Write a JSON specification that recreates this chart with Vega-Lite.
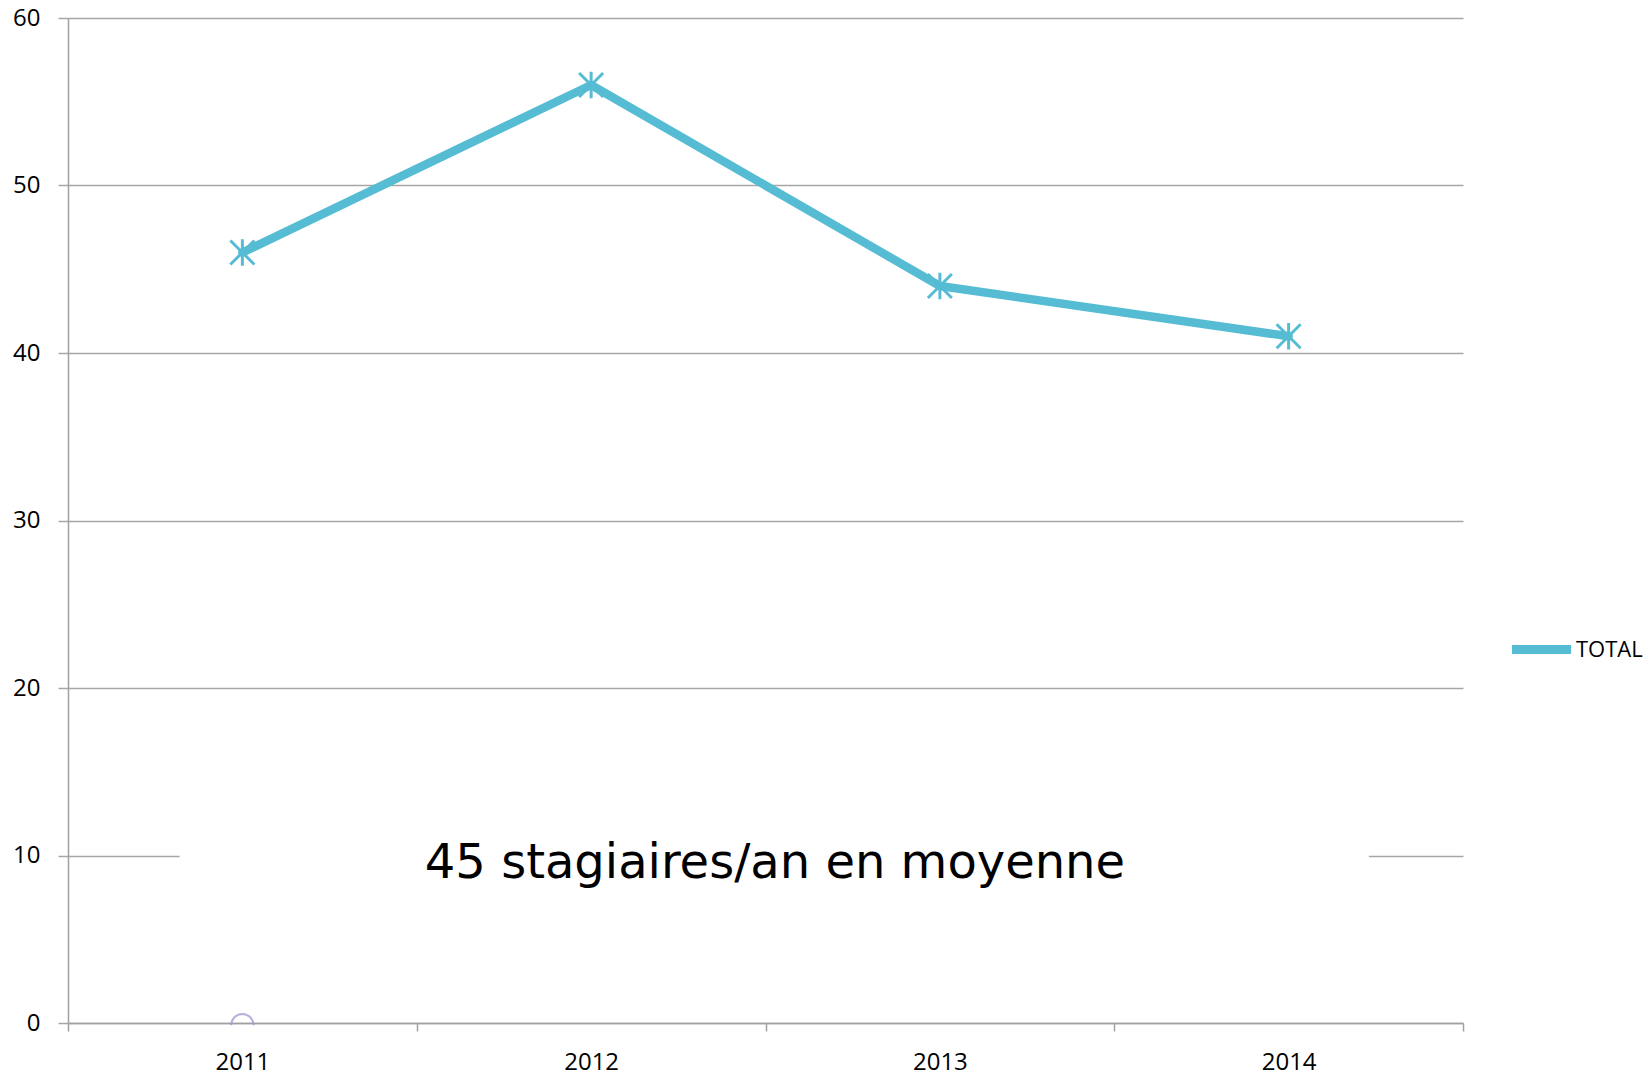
{
  "$schema": "https://vega.github.io/schema/vega-lite/v6.json",
  "width": 1395,
  "height": 1005,
  "autosize": {"type": "none"},
  "padding": {"left": 68, "top": 18, "right": 187, "bottom": 53},
  "background": "white",
  "config": {"view": {"stroke": null}, "font": "Open Sans"},
  "datasets": {
    "total": [
      {"year": "2011", "value": 46, "series": "TOTAL"},
      {"year": "2012", "value": 56, "series": "TOTAL"},
      {"year": "2013", "value": 44, "series": "TOTAL"},
      {"year": "2014", "value": 41, "series": "TOTAL"}
    ],
    "note": [
      {"start": "2011", "end": "2014", "mid": "2013", "y": 9.5, "lo": 7.8, "hi": 11.2, "label": "45 stagiaires/an en moyenne"}
    ],
    "zero": [{"year": "2011", "value": 0}]
  },
  "resolve": {"scale": {"color": "independent"}},
  "layer": [
    {
      "data": {"name": "total"},
      "mark": {"type": "line", "strokeWidth": 8.5, "strokeCap": "round", "strokeJoin": "round"},
      "encoding": {
        "x": {
          "field": "year", "type": "ordinal",
          "scale": {"type": "band", "domain": ["2011", "2012", "2013", "2014"], "paddingInner": 0, "paddingOuter": 0},
          "axis": {
            "title": null, "tickBand": "extent", "tickSize": 8, "tickColor": "#a0a0a0", "tickWidth": 1.5,
            "domainColor": "#a0a0a0", "domainWidth": 1.5, "labelFontSize": 24, "labelColor": "#000000",
            "labelPadding": 19, "labelAngle": 0, "grid": false
          }
        },
        "y": {
          "field": "value", "type": "quantitative",
          "scale": {"domain": [0, 60], "nice": false},
          "axis": {
            "title": null, "values": [0, 10, 20, 30, 40, 50, 60], "grid": true, "gridColor": "#a6a6a6", "gridWidth": 1.5,
            "tickSize": 10, "tickColor": "#a6a6a6", "tickWidth": 1.5, "domainColor": "#a0a0a0", "domainWidth": 1.5,
            "labelFontSize": 24, "labelColor": "#000000", "labelPadding": 18
          }
        },
        "color": {
          "field": "series", "type": "nominal",
          "scale": {"range": ["#56bcd3"]},
          "legend": {
            "title": null, "orient": "none", "legendX": 1439, "legendY": 597,
            "symbolType": "M-1,0L1,0", "symbolSize": 3500, "symbolStrokeWidth": 9,
            "labelFontSize": 22, "labelColor": "#000000", "labelOffset": 0
          }
        }
      }
    },
    {
      "data": {"name": "total"},
      "mark": {"type": "point", "shape": "M-1,-1L1,1M-1,1L1,-1M0,-1.1L0,1.1", "size": 576, "strokeWidth": 3, "filled": false, "color": "#56bcd3", "opacity": 1},
      "encoding": {
        "x": {"field": "year", "type": "ordinal"},
        "y": {"field": "value", "type": "quantitative"}
      }
    },
    {
      "data": {"name": "zero"},
      "mark": {"type": "point", "shape": "M-1,0.2A1,1,0,0,1,1,0.2", "size": 500, "strokeWidth": 2, "filled": false, "color": "#a99ad6", "opacity": 0.8},
      "encoding": {
        "x": {"field": "year", "type": "ordinal"},
        "y": {"field": "value", "type": "quantitative"}
      }
    },
    {
      "data": {"name": "note"},
      "mark": {"type": "rect", "color": "white"},
      "encoding": {
        "x": {"field": "start", "type": "ordinal", "bandPosition": 0.32},
        "x2": {"field": "end", "bandPosition": 0.73},
        "y": {"field": "lo", "type": "quantitative"},
        "y2": {"field": "hi"}
      }
    },
    {
      "data": {"name": "note"},
      "mark": {"type": "text", "font": "DejaVu Sans", "fontSize": 48, "fontWeight": "normal", "color": "#000000", "align": "center", "baseline": "middle"},
      "encoding": {
        "x": {"field": "mid", "type": "ordinal", "bandPosition": 0.027},
        "y": {"field": "y", "type": "quantitative"},
        "text": {"field": "label"}
      }
    }
  ]
}
